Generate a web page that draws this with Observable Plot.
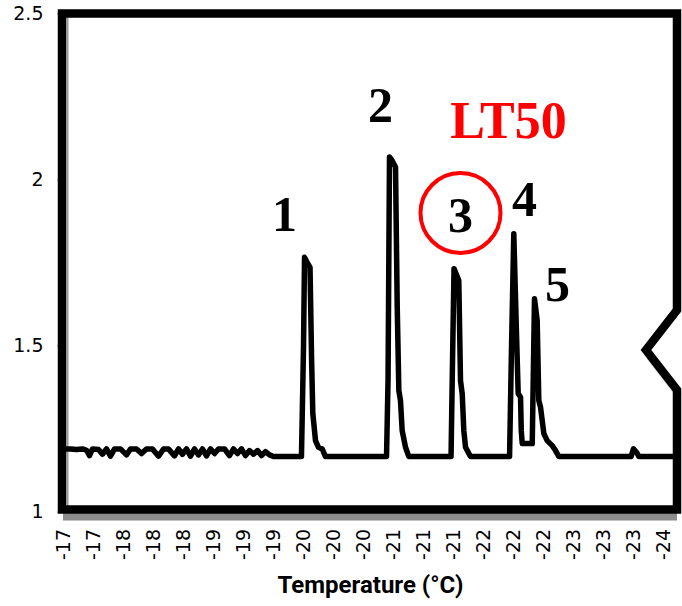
<!DOCTYPE html>
<html><head><meta charset="utf-8">
<script src="https://cdn.jsdelivr.net/npm/d3@7"></script>
<script src="https://cdn.jsdelivr.net/npm/@observablehq/plot@0.6"></script>
<style>body{margin:0;background:#fff;}</style>
</head><body><div id="chart"></div>
<script>
// Temperature (°C) of each reading, and the recorded signal
const temperature = [
  -17.000, -17.078, -17.144, -17.211, -17.256, -17.289, -17.322, -17.389, -17.433, -17.478,
  -17.522, -17.567, -17.633, -17.700, -17.744, -17.811, -17.867, -17.922, -17.989, -18.056,
  -18.111, -18.167, -18.233, -18.278, -18.322, -18.367, -18.411, -18.456, -18.500, -18.544,
  -18.589, -18.633, -18.678, -18.722, -18.789, -18.844, -18.889, -18.933, -18.978, -19.022,
  -19.067, -19.111, -19.156, -19.200, -19.244, -19.289, -19.333,
  -19.644, -19.667, -19.678, -19.700, -19.739, -19.756, -19.770, -19.800, -19.833, -19.874, -19.911,
  -20.589, -20.606, -20.622, -20.644, -20.689, -20.708, -20.726, -20.744, -20.763, -20.800, -20.837,
  -21.306, -21.322, -21.339, -21.392, -21.411, -21.430, -21.448, -21.467, -21.522,
  -21.956, -21.978, -22.003, -22.033, -22.052, -22.078, -22.086, -22.097, -22.208,
  -22.233, -22.263, -22.281, -22.300, -22.337, -22.374, -22.430, -22.467, -22.503,
  -23.306, -23.333, -23.367, -23.394, -23.822
];
const signal = [
  1.190, 1.190, 1.188, 1.190, 1.186, 1.170, 1.190, 1.188, 1.174, 1.190,
  1.168, 1.190, 1.190, 1.172, 1.190, 1.190, 1.176, 1.190, 1.190, 1.168,
  1.190, 1.190, 1.169, 1.190, 1.174, 1.190, 1.168, 1.190, 1.172, 1.190,
  1.169, 1.190, 1.176, 1.190, 1.190, 1.170, 1.190, 1.176, 1.190, 1.170,
  1.185, 1.174, 1.185, 1.170, 1.182, 1.172, 1.167,
  1.167, 1.500, 1.767, 1.755, 1.737, 1.466, 1.297, 1.215, 1.195, 1.190, 1.167,
  1.167, 1.400, 2.069, 2.062, 2.039, 1.617, 1.366, 1.336, 1.245, 1.195, 1.167,
  1.167, 1.450, 1.733, 1.697, 1.396, 1.356, 1.245, 1.195, 1.167,
  1.167, 1.500, 1.838, 1.538, 1.357, 1.346, 1.245, 1.206, 1.206,
  1.642, 1.577, 1.336, 1.316, 1.236, 1.215, 1.200, 1.185, 1.167,
  1.167, 1.190, 1.180, 1.167, 1.167
];

// Axis ticks
const xTickValues = [-17, -17.333, -17.667, -18, -18.333, -18.667, -19, -19.333, -19.667, -20,
  -20.333, -20.667, -21, -21.333, -21.667, -22, -22.333, -22.667, -23, -23.333, -23.667];
const xTickLabels = ["-17","-17","-18","-18","-18","-19","-19","-19","-20","-20",
  "-20","-21","-21","-21","-22","-22","-22","-23","-23","-23","-24"];
const yTickValues = [1, 1.5, 2, 2.5];
const xTitle = "Temperature (°C)";

// Annotations
const peakLabels = ["1", "2", "3", "4", "5"];
const peakLabelT = [-19.456, -20.522, -21.411, -22.122, -22.489];
const peakLabelV = [1.896, 2.224, 1.893, 1.941, 1.685];
const lt50Label = ["LT50"];
const lt50T = [-21.944];
const lt50V = [2.176];
const circleT = [-21.411];
const circleV = [1.9006];

const W = 682, H = 606;

function frameMark(index, scales, values, dims) {
  const l = dims.marginLeft - 1, t = dims.marginTop;
  const r = dims.width - dims.marginRight, b = dims.height - dims.marginBottom - 2;
  const ny = scales.y(1.5) + 4.5;
  const g = d3.create("svg:g");
  g.append("path")
    .attr("d", `M${r - 29},${ny + 3}L${r + 1},${ny + 42}`)
    .attr("stroke", "#bbb").attr("stroke-width", 6).attr("fill", "none")
    .attr("opacity", 0.6).attr("transform", "translate(1,4)");
  g.append("path")
    .attr("d", `M${l},${t}H${r}V${ny - 40}L${r - 31},${ny}L${r},${ny + 40}V${b}H${l}Z`)
    .attr("fill", "none").attr("stroke", "#000").attr("stroke-width", 8.5)
    .attr("stroke-linejoin", "miter");
  return g.node();
}

const labelIndex = d => xTickValues.findIndex(v => Math.abs(v - d) < 1e-6);

const plot = Plot.plot({
  width: W, height: H,
  marginLeft: 63, marginRight: 5, marginTop: 13.5, marginBottom: 94.5,
  style: {fontFamily: "DejaVu Sans", color: "#000", background: "#fff", overflow: "visible"},
  x: {domain: [-17, -23.822], axis: null},
  y: {domain: [1, 2.5], axis: null},
  marks: [
    Plot.axisY(yTickValues, {tickSize: 6, tickPadding: 14, stroke: "#8c8c8c", fontSize: 19,
      tickFormat: d => String(d), label: null}),
    Plot.axisX(xTickValues, {tickRotate: -90, tickSize: 0, tickPadding: 17, fontSize: 19,
      tickFormat: d => xTickLabels[labelIndex(d)], label: null}),
    Plot.ruleX([-17], {stroke: "#999", strokeWidth: 2, dx: 4}),
    Plot.ruleY([1], {stroke: "#8c8c8c", strokeWidth: 8, dy: 4.5}),
    Plot.line(signal, {x: temperature, y: signal, stroke: "#000", strokeWidth: 5.5,
      strokeLinejoin: "round", strokeLinecap: "round"}),
    frameMark,
    Plot.dot(circleT, {x: circleT, y: circleV, r: 40, stroke: "#f00", strokeWidth: 4, fill: "none"}),
    Plot.text(peakLabels, {x: peakLabelT, y: peakLabelV, text: d => d, fontFamily: "Liberation Serif",
      fontWeight: "bold", fontSize: 50, fill: "#000"}),
    Plot.text(lt50Label, {x: lt50T, y: lt50V, text: d => d, fontFamily: "Liberation Serif",
      fontWeight: "bold", fontSize: 52, fill: "#f00"}),
    Plot.text([xTitle], {frameAnchor: "bottom", dy: 81, text: d => d, fontFamily: "Roboto",
      fontWeight: "bold", fontSize: 24, fill: "#000"})
  ]
});
document.getElementById("chart").appendChild(plot);
</script>
</body></html>
